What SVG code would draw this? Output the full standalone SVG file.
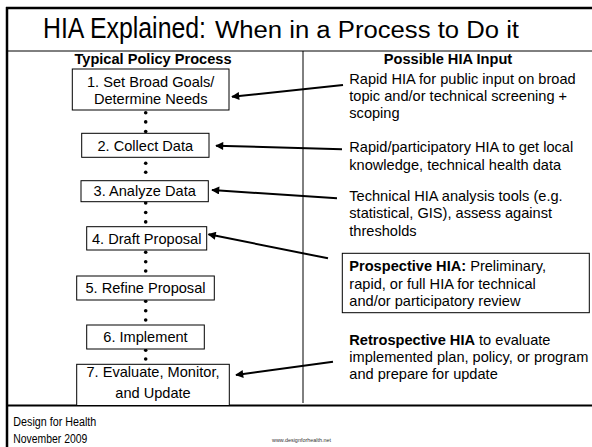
<svg xmlns="http://www.w3.org/2000/svg" width="592" height="447" viewBox="0 0 592 447">
<defs>
<style>
text{font-family:"Liberation Sans",Arial,sans-serif;fill:#000}
.box{fill:#fff;stroke:#000;stroke-width:1}
.bt{font-size:14.6px;text-anchor:middle}
.rt{font-size:14.6px}
.hd{font-size:14.6px;font-weight:bold;text-anchor:middle}
.arr{stroke:#000;stroke-width:2;fill:none;marker-end:url(#ah)}
.dot{fill:#000}
.foot{font-size:12px}
</style>
<marker id="ah" viewBox="0 0 10 10" refX="9" refY="5" markerWidth="5" markerHeight="4" orient="auto" markerUnits="strokeWidth">
<path d="M0,0 L10,5 L0,10 z" fill="#000"/>
</marker>
</defs>
<rect width="592" height="447" fill="#fff"/>
<g id="frame">
<line x1="6" y1="8" x2="592" y2="8" stroke="#000" stroke-width="2.5"/>
<line x1="7" y1="7" x2="7" y2="447" stroke="#000" stroke-width="2.5"/>
<line x1="7" y1="51" x2="592" y2="51" stroke="#000" stroke-width="1"/>
<line x1="303" y1="51" x2="303" y2="403" stroke="#000" stroke-width="1"/>
<line x1="7" y1="405.5" x2="592" y2="405.5" stroke="#000" stroke-width="2"/>
</g>
<g id="title">
<text x="43" y="38" style="font-size:29px" textLength="163" lengthAdjust="spacingAndGlyphs">HIA Explained:</text>
<text x="215" y="38" style="font-size:23.5px" textLength="304" lengthAdjust="spacingAndGlyphs">When in a Process to Do it</text>
</g>
<text class="hd" x="153" y="64">Typical Policy Process</text>
<text class="hd" x="448" y="64">Possible HIA Input</text>
<g id="connectors">
<circle class="dot" cx="145.7" cy="112.7" r="1.8"/>
<circle class="dot" cx="145.7" cy="121.9" r="1.8"/>
<circle class="dot" cx="145.7" cy="131.5" r="1.8"/>
<circle class="dot" cx="145.7" cy="163.3" r="1.8"/>
<circle class="dot" cx="145.7" cy="172.3" r="1.8"/>
<circle class="dot" cx="145.7" cy="202.9" r="1.8"/>
<circle class="dot" cx="145.7" cy="212.5" r="1.8"/>
<circle class="dot" cx="145.7" cy="221.9" r="1.8"/>
<circle class="dot" cx="145.7" cy="252.3" r="1.8"/>
<circle class="dot" cx="145.7" cy="261.7" r="1.8"/>
<circle class="dot" cx="145.7" cy="271" r="1.8"/>
<circle class="dot" cx="145.7" cy="301.2" r="1.8"/>
<circle class="dot" cx="145.7" cy="310.7" r="1.8"/>
<circle class="dot" cx="145.7" cy="320" r="1.8"/>
<circle class="dot" cx="145.7" cy="350.3" r="1.8"/>
<circle class="dot" cx="145.7" cy="359" r="1.8"/>
<line class="arr" x1="343" y1="85" x2="232" y2="96.7"/>
<line class="arr" x1="342" y1="149.2" x2="216" y2="145.7"/>
<line class="arr" x1="337" y1="198.3" x2="212" y2="190"/>
<line class="arr" x1="328" y1="258.3" x2="208.5" y2="234.3"/>
<line class="arr" x1="333" y1="361.7" x2="236" y2="375"/>
</g>
<g id="step1">
<rect class="box" x="72.3" y="69" width="156.7" height="41"/>
<text class="bt" x="150.7" y="86.5">1. Set Broad Goals/</text>
<text class="bt" x="150.7" y="103.5">Determine Needs</text>
</g>
<g id="step2">
<rect class="box" x="81.7" y="133.3" width="127.3" height="24"/>
<text class="bt" x="145.3" y="150.7">2. Collect Data</text>
</g>
<g id="step3">
<rect class="box" x="81" y="180.7" width="127.3" height="21"/>
<text class="bt" x="144.7" y="195.5">3. Analyze Data</text>
</g>
<g id="step4">
<rect class="box" x="86.7" y="226.7" width="120" height="23.3"/>
<text class="bt" x="146.7" y="244">4. Draft Proposal</text>
</g>
<g id="step5">
<rect class="box" x="76.7" y="276" width="137.6" height="24"/>
<text class="bt" x="145.5" y="293">5. Refine Proposal</text>
</g>
<g id="step6">
<rect class="box" x="86.7" y="325" width="117.6" height="24"/>
<text class="bt" x="145.5" y="342">6. Implement</text>
</g>
<g id="step7">
<rect class="box" x="76.7" y="364.3" width="152.6" height="41.2"/>
<text class="bt" x="153" y="377">7. Evaluate, Monitor,</text>
<text class="bt" x="153" y="398">and Update</text>
</g>
<g id="input1">
<text class="rt" x="349.3" y="83.5">Rapid HIA for public input on broad</text>
<text class="rt" x="349.3" y="101">topic and/or technical screening +</text>
<text class="rt" x="349.3" y="118.3">scoping</text>
</g>
<g id="input2">
<text class="rt" x="349.3" y="152.3">Rapid/participatory HIA to get local</text>
<text class="rt" x="349.3" y="170">knowledge, technical health data</text>
</g>
<g id="input3">
<text class="rt" x="349.3" y="201">Technical HIA analysis tools (e.g.</text>
<text class="rt" x="349.3" y="218.3">statistical, GIS), assess against</text>
<text class="rt" x="349.3" y="235.7">thresholds</text>
</g>
<g id="input4">
<rect class="box" x="342.3" y="253.3" width="247" height="59.4"/>
<text class="rt" x="349.3" y="271"><tspan font-weight="bold">Prospective HIA:</tspan> Preliminary,</text>
<text class="rt" x="349.3" y="288.7">rapid, or full HIA for technical</text>
<text class="rt" x="349.3" y="305.7">and/or participatory review</text>
</g>
<g id="input5">
<text class="rt" x="349.3" y="345"><tspan font-weight="bold">Retrospective HIA</tspan> to evaluate</text>
<text class="rt" x="349.3" y="362.3">implemented plan, policy, or program</text>
<text class="rt" x="349.3" y="379.3">and prepare for update</text>
</g>
<g id="footer">
<text class="foot" x="13.3" y="425.7" textLength="83" lengthAdjust="spacingAndGlyphs">Design for Health</text>
<text class="foot" x="13.3" y="442.5" textLength="74" lengthAdjust="spacingAndGlyphs">November 2009</text>
<text x="272" y="442" style="font-size:5.5px;fill:#333" textLength="59" lengthAdjust="spacingAndGlyphs">www.designforhealth.net</text>
</g>
</svg>
